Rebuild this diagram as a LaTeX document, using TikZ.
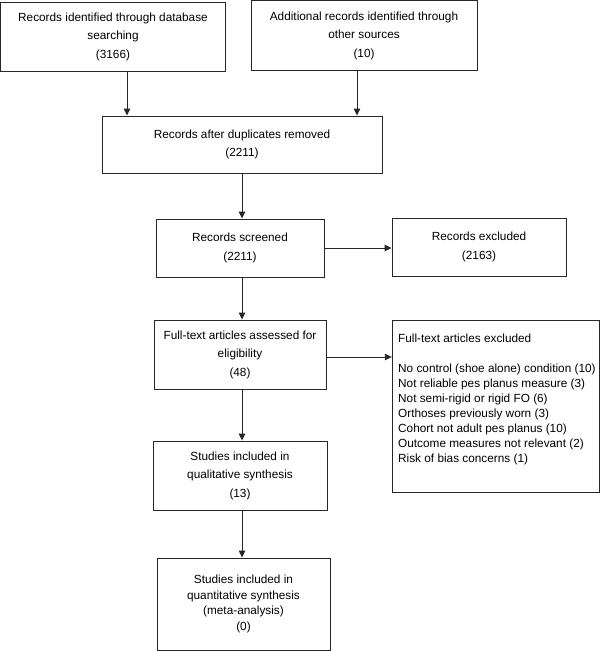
\documentclass[tikz,border=0pt]{standalone}
\usepackage{fontspec}
\setmainfont{Liberation Sans}
\usetikzlibrary{arrows.meta}
\tikzset{
  box/.style={draw=black!85, line width=0.9pt, inner sep=0pt, align=center,
    font=\fontsize{11.8pt}{18.5pt}\selectfont},
  tightbox/.style={box, font=\fontsize{11.8pt}{15.6pt}\selectfont},
  arr/.style={draw=black!85, line width=0.9pt, -{Triangle[length=7pt,width=6.5pt]}}
}
\begin{document}
\begin{tikzpicture}[x=1pt,y=-1pt]
\useasboundingbox (0,0) rectangle (600,651);
\node[box, minimum width=225pt, minimum height=69pt] (b1) at (113,36.5)
  {Records identified through database\\searching\\(3166)};
\node[box, minimum width=226pt, minimum height=69.5pt] (b2) at (364,35.5)
  {Additional records identified through\\other sources\\(10)};
\node[box, minimum width=280pt, minimum height=57pt] (b3) at (242,144.5)
  {Records after duplicates removed\\(2211)};
\node[box, minimum width=168pt, minimum height=58pt] (b4) at (240,248)
  {Records screened\\(2211)};
\node[box, minimum width=174pt, minimum height=58pt] (b5) at (479,247)
  {Records excluded\\(2163)};
\node[box, minimum width=172pt, minimum height=69pt] (b6) at (240,354.5)
  {Full-text articles assessed for\\eligibility\\(48)};
\node[box, minimum width=207pt, minimum height=172pt] (b7) at (495.75,406) {};
\node[inner sep=0pt, anchor=north west, align=left,
  font=\fontsize{11.8pt}{15pt}\selectfont] (b7t) at (398,333.5)
  {Full-text articles excluded\\[15pt]
   No control (shoe alone) condition (10)\\
   Not reliable pes planus measure (3)\\
   Not semi-rigid or rigid FO (6)\\
   Orthoses previously worn (3)\\
   Cohort not adult pes planus (10)\\
   Outcome measures not relevant (2)\\
   Risk of bias concerns (1)};
\node[box, minimum width=174pt, minimum height=69pt] (b8) at (240,475.5)
  {Studies included in\\qualitative synthesis\\(13)};
\node[tightbox, minimum width=173pt, minimum height=92pt] (b9) at (243.5,604)
  {Studies included in\\quantitative synthesis\\(meta-analysis)\\(0)};
\coordinate (cA) at (127,0);
\coordinate (cB) at (357,0);
\coordinate (cC) at (242,0);
\draw[arr] (b1.south -| cA) -- (b3.north -| cA);
\draw[arr] (b2.south -| cB) -- (b3.north -| cB);
\draw[arr] (b3.south -| cC) -- (b4.north -| cC);
\draw[arr] (b4.south -| cC) -- (b6.north -| cC);
\draw[arr] (b6.south -| cC) -- (b8.north -| cC);
\draw[arr] (b8.south -| cC) -- (b9.north -| cC);
\draw[arr] (b4.east) -- (b4.east -| b5.west);
\draw[arr] ([yshift=-2.5pt]b6.east) -- ([yshift=-2.5pt]b6.east -| b7.west);
\end{tikzpicture}
\end{document}
